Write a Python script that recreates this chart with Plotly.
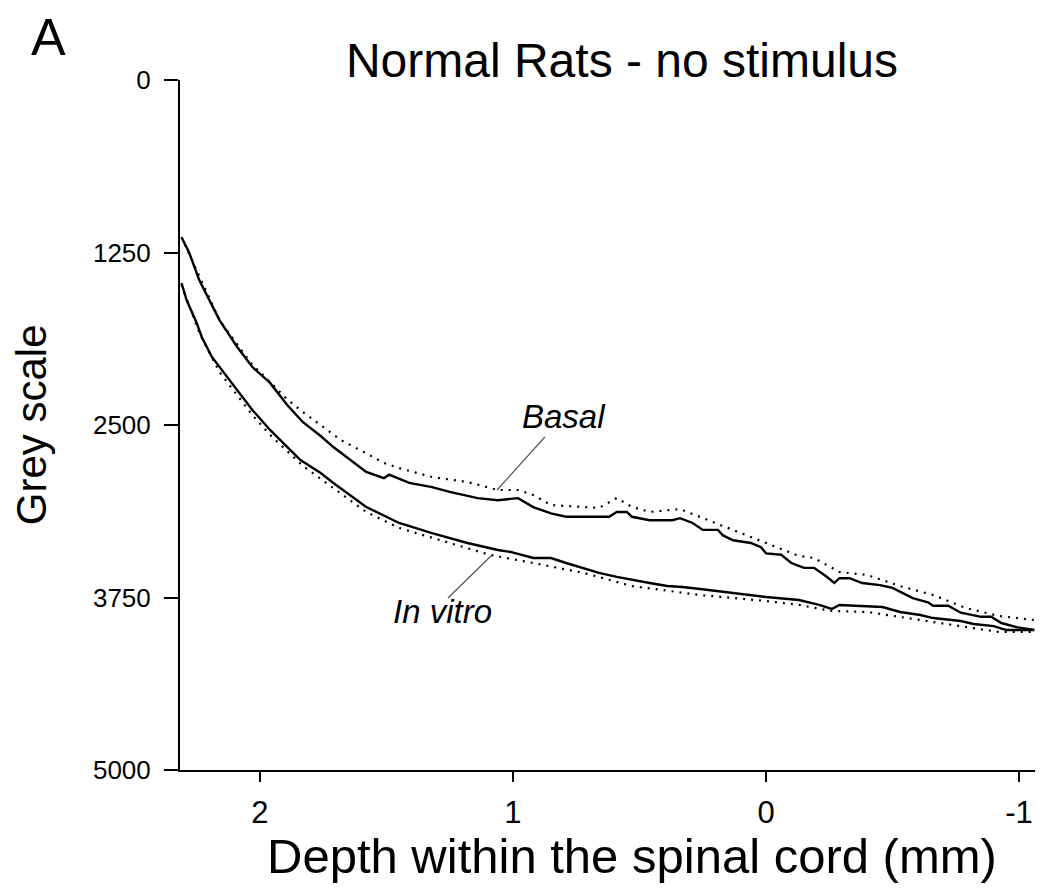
import plotly.graph_objects as go

# ---------------- data ----------------
basal_depth = [2.31, 2.28, 2.24, 2.20, 2.16, 2.09, 2.03, 1.96, 1.89, 1.83,
               1.76, 1.71, 1.64, 1.58, 1.51, 1.49, 1.41, 1.32, 1.25, 1.14,
               1.06, 0.98, 0.92, 0.85, 0.79, 0.72, 0.62, 0.59, 0.55, 0.53,
               0.46, 0.37, 0.34, 0.29, 0.25, 0.19, 0.17, 0.13, 0.06, 0.02,
               0.00, -0.06, -0.10, -0.15, -0.19, -0.24, -0.27, -0.29, -0.33, -0.38,
               -0.45, -0.50, -0.53, -0.58, -0.64, -0.66, -0.72, -0.77, -0.85, -0.89,
               -0.93, -0.99, -1.06]
basal_grey = [1140, 1250, 1450, 1590, 1740, 1935, 2080, 2195, 2360, 2480,
              2580, 2660, 2760, 2840, 2885, 2860, 2920, 2950, 2985, 3030,
              3045, 3030, 3095, 3140, 3165, 3165, 3165, 3130, 3130, 3165,
              3190, 3190, 3175, 3210, 3260, 3260, 3300, 3335, 3355, 3385,
              3430, 3440, 3500, 3535, 3535, 3600, 3645, 3610, 3610, 3645,
              3660, 3680, 3710, 3755, 3785, 3810, 3810, 3860, 3890, 3890,
              3935, 3965, 3985]

basal_dot_depth = [2.31, 2.16, 2.03, 1.96, 1.89, 1.83, 1.75, 1.68, 1.59, 1.51,
                   1.45, 1.32, 1.18, 1.06, 0.98, 0.92, 0.85, 0.72, 0.66, 0.59,
                   0.53, 0.46, 0.34, 0.26, 0.13, 0.00, -0.13, -0.19, -0.29, -0.40,
                   -0.53, -0.66, -0.79, -0.92, -1.06]
basal_dot_grey = [1140, 1740, 2065, 2188, 2319, 2406, 2514, 2609, 2696, 2775,
                  2812, 2877, 2913, 2971, 2971, 3007, 3080, 3094, 3101, 3029,
                  3094, 3130, 3109, 3167, 3261, 3355, 3449, 3464, 3565, 3587,
                  3667, 3732, 3826, 3884, 3913]

vitro_depth = [2.31, 2.29, 2.25, 2.23, 2.19, 2.13, 2.09, 2.03, 1.96, 1.89,
               1.84, 1.76, 1.71, 1.58, 1.45, 1.32, 1.18, 1.06, 1.01, 0.92,
               0.85, 0.79, 0.72, 0.66, 0.59, 0.53, 0.46, 0.39, 0.33, 0.26,
               0.13, 0.00, -0.13, -0.21, -0.26, -0.29, -0.46, -0.53, -0.61, -0.66,
               -0.77, -0.82, -0.90, -0.95, -1.06]
vitro_grey = [1471, 1594, 1761, 1862, 2007, 2152, 2246, 2391, 2536, 2659,
              2754, 2848, 2920, 3094, 3210, 3283, 3355, 3406, 3420, 3464,
              3464, 3500, 3536, 3572, 3601, 3623, 3645, 3667, 3674, 3688,
              3717, 3746, 3768, 3804, 3833, 3804, 3819, 3855, 3877, 3899,
              3920, 3942, 3957, 3986, 3986]

vitro_dot_depth = [2.31, 2.24, 2.16, 2.03, 1.96, 1.83, 1.71, 1.58, 1.45, 1.25,
                   1.09, 0.92, 0.72, 0.53, 0.33, 0.26, 0.00, -0.13, -0.26, -0.40,
                   -0.53, -0.66, -0.79, -0.92, -1.06]
vitro_dot_grey = [1486, 1833, 2116, 2428, 2572, 2797, 2957, 3130, 3246, 3355,
                  3442, 3500, 3572, 3667, 3717, 3732, 3775, 3804, 3848, 3855,
                  3891, 3928, 3964, 4000, 4000]

y_ticks = [0, 1250, 2500, 3750, 5000]
x_ticks = [2, 1, 0, -1]

# label anchor points (data units)
basal_label = (0.80, 2435)
basal_leader = [(0.874, 2587), (1.063, 2971)]
vitro_label = (1.277, 3855)
vitro_leader = [(1.257, 3754), (1.087, 3449)]

FONT = "Liberation Sans, Arial, Helvetica, sans-serif"

fig = go.Figure()
fig.add_trace(go.Scatter(x=basal_dot_depth, y=basal_dot_grey, mode="lines",
                         line=dict(color="black", width=2.2, dash="2px,6px"),
                         showlegend=False))
fig.add_trace(go.Scatter(x=basal_depth, y=basal_grey, mode="lines",
                         line=dict(color="black", width=2.4),
                         showlegend=False))
fig.add_trace(go.Scatter(x=vitro_dot_depth, y=vitro_dot_grey, mode="lines",
                         line=dict(color="black", width=2.2, dash="2px,6px"),
                         showlegend=False))
fig.add_trace(go.Scatter(x=vitro_depth, y=vitro_grey, mode="lines",
                         line=dict(color="black", width=2.4),
                         showlegend=False))

for (x0, y0), (x1, y1) in [basal_leader, vitro_leader]:
    fig.add_shape(type="line", x0=x0, y0=y0, x1=x1, y1=y1, xref="x", yref="y",
                  line=dict(color="#555555", width=1.2))

fig.add_annotation(x=basal_label[0], y=basal_label[1], text="<i>Basal</i>",
                   showarrow=False, font=dict(family=FONT, size=33, color="black"))
fig.add_annotation(x=vitro_label[0], y=vitro_label[1], text="<i>In vitro</i>",
                   showarrow=False, font=dict(family=FONT, size=33, color="black"))
fig.add_annotation(x=-0.154, y=1.063, xref="paper", yref="paper", text="A",
                   xanchor="center", yanchor="middle",
                   showarrow=False, font=dict(family=FONT, size=52, color="black"))
# axis titles
fig.add_annotation(x=0.529, y=-0.124, xref="paper", yref="paper",
                   text="Depth within the spinal cord (mm)",
                   xanchor="center", yanchor="middle", showarrow=False,
                   font=dict(family=FONT, size=49, color="black"))
fig.add_annotation(x=-0.174, y=0.50, xref="paper", yref="paper",
                   text="Grey scale", textangle=-90,
                   xanchor="center", yanchor="middle", showarrow=False,
                   font=dict(family=FONT, size=42, color="black"))

fig.update_layout(
    width=1040, height=880,
    margin=dict(l=172, r=13, t=72, b=118),
    paper_bgcolor="white", plot_bgcolor="white",
    font=dict(family=FONT, color="black"),
    title=dict(text="Normal Rats - no stimulus", x=614 / 1040, xanchor="center",
               y=1 - 52 / 880, yanchor="middle",
               font=dict(family=FONT, size=48, color="black")),
)
fig.update_xaxes(range=[2.316, -1.063], tickvals=x_ticks,
                 ticktext=[str(v) for v in x_ticks],
                 showgrid=False, zeroline=False, showline=True,
                 linecolor="black", linewidth=2,
                 ticks="outside", ticklen=10, tickwidth=1.5, tickcolor="black",
                 tickfont=dict(size=31), ticklabelstandoff=4)
fig.update_yaxes(range=[5000, 0], tickvals=y_ticks,
                 ticktext=[str(v) for v in y_ticks],
                 showgrid=False, zeroline=False, showline=True,
                 linecolor="black", linewidth=2,
                 ticks="outside", ticklen=14, tickwidth=2, tickcolor="black",
                 tickfont=dict(size=26), ticklabelstandoff=8)

fig.write_html("out.html")
